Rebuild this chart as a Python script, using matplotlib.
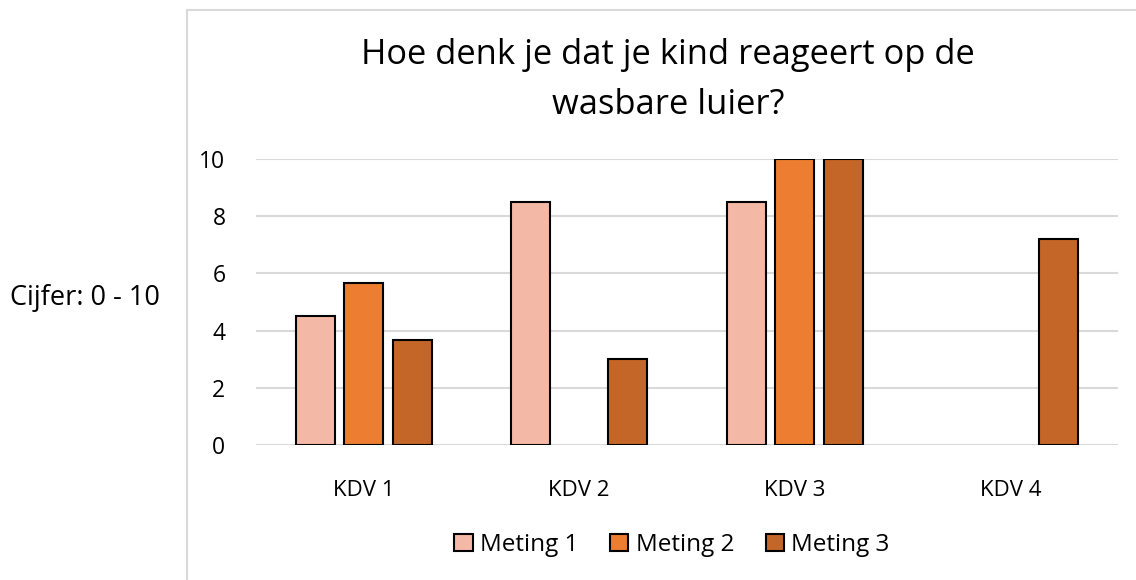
import numpy as np
import matplotlib
matplotlib.use("Agg")
import matplotlib.pyplot as plt
from matplotlib.patches import Rectangle

# data
categories = ["KDV 1", "KDV 2", "KDV 3", "KDV 4"]
meting_1 = [4.5, 8.5, 8.5, 0]
meting_2 = [5.67, 0, 10, 0]
meting_3 = [3.67, 3, 10, 7.2]
series_names = ["Meting 1", "Meting 2", "Meting 3"]
colors = ["#F4B9A6", "#ED7D31", "#C46628"]

plt.rcParams['font.family'] = ['Open Sans', 'DejaVu Sans']

fig = plt.figure(figsize=(11.36, 5.8), dpi=100)

# chart area border (the y label sits outside it)
fig.patches.append(Rectangle((187 / 1136, -0.01), 1.0, (570 / 580) + 0.01,
                             transform=fig.transFigure, fill=False,
                             edgecolor="#D9D9D9", linewidth=1.5))

ax = fig.add_axes([256 / 1136, 135 / 580, 862 / 1136, 286 / 580])

x = np.arange(len(categories))
width = 0.18
step = 0.225
for i, (vals, name, c) in enumerate(zip([meting_1, meting_2, meting_3], series_names, colors)):
    xs = x + (i - 1) * step
    # skip empty values so no flat outlines get drawn
    mask = np.array(vals) > 0
    ax.bar(xs[mask], np.array(vals)[mask], width=width, color=c,
           edgecolor="black", linewidth=1.5, label=name, zorder=3)

ax.set_xlim(-0.5, len(categories) - 0.5)
ax.set_ylim(0, 10)
ax.set_yticks([0, 2, 4, 6, 8, 10])
ax.set_xticks(x)
ax.set_xticklabels(categories)
ax.yaxis.grid(True, color="#D9D9D9", linewidth=1.5, zorder=0)
ax.set_axisbelow(True)
for s in ax.spines.values():
    s.set_visible(False)
ax.tick_params(axis="both", length=0, colors="black")
ax.tick_params(axis="x", pad=25, labelsize=16)
ax.tick_params(axis="y", pad=22, labelsize=16.5)

fig.text(668 / 1136, 1 - 80 / 580, "Hoe denk je dat je kind reageert op de\nwasbare luier?",
         ha="center", va="center", fontsize=24.8, linespacing=1.64)
fig.text(85 / 1136, 1 - 298 / 580, "Cijfer: 0 - 10", ha="center", va="center", fontsize=19.5)

fig.legend(loc="center", bbox_to_anchor=(672 / 1136, 1 - 545 / 580), ncol=3,
           frameon=False, fontsize=17.5, handlelength=0.75, handleheight=0.75,
           handletextpad=0.3, columnspacing=1.3)

fig.savefig("out.png", dpi=100)
